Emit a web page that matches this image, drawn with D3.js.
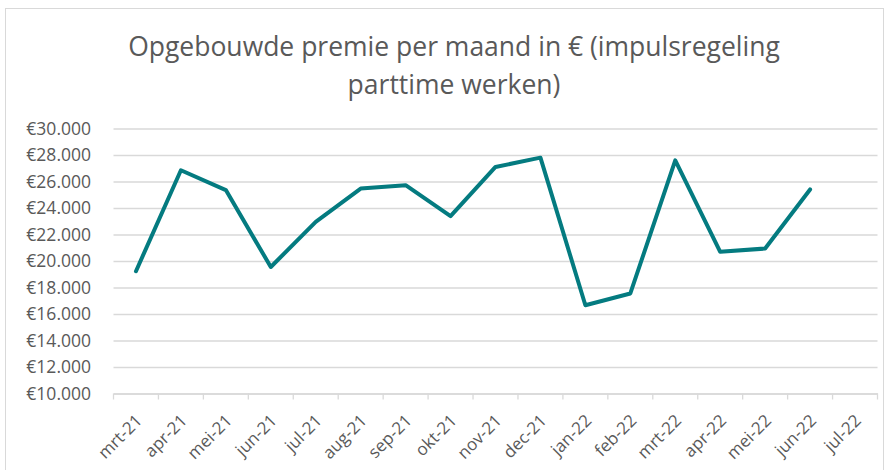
<!DOCTYPE html>
<html>
<head>
<meta charset="utf-8">
<script src="https://cdn.jsdelivr.net/npm/d3@7"></script>
<style>
  body { margin: 0; background: #fff; }
  text { font-family: "Open Sans", sans-serif; fill: #595959; }
</style>
</head>
<body>
<svg id="chart" width="888" height="470"></svg>
<script>
// maanden op de x-as
var months = ['mrt-21', 'apr-21', 'mei-21', 'jun-21', 'jul-21', 'aug-21', 'sep-21', 'okt-21',
  'nov-21', 'dec-21', 'jan-22', 'feb-22', 'mrt-22', 'apr-22', 'mei-22', 'jun-22', 'jul-22']
// opgebouwde premie per maand (jul-22 nog leeg)
var premie = [19230, 26850, 25350, 19550, 22950, 25470, 25720, 23380,
  27100, 27800, 16660, 17550, 27600, 20690, 20940, 25400]
var yTicks = [10000, 12000, 14000, 16000, 18000, 20000, 22000, 24000, 26000, 28000, 30000]
var titleLines = ['Opgebouwde premie per maand in € (impulsregeling', 'parttime werken)']

var svg = d3.select('#chart')
var mLeft = 113.5, mRight = 877.5, mTop = 128.5, mBottom = 393.5

// rand om de grafiek
svg.append('rect')
  .attr('x', 5.5).attr('y', 8.5).attr('width', 878).attr('height', 470)
  .attr('fill', 'none').attr('stroke', '#d9d9d9')

svg.selectAll('.title').data(titleLines).enter().append('text')
  .attr('class', 'title')
  .attr('x', 454)
  .attr('y', function(d, i) { return 56 + i * 38 })
  .attr('text-anchor', 'middle')
  .style('font-size', '26.5px')
  .text(function(d) { return d })

var x = d3.scaleBand().domain(months).range([mLeft, mRight])
var y = d3.scaleLinear().domain([10000, 30000]).range([mBottom, mTop])

// rasterlijnen
svg.append('g')
  .attr('transform', 'translate(' + mLeft + ',0)')
  .call(d3.axisLeft(y).tickValues(yTicks).tickSize(-(mRight - mLeft)).tickFormat(''))
  .call(function(g) {
    g.select('.domain').remove()
    g.selectAll('line').attr('stroke', '#d9d9d9').attr('stroke-width', 1.3)
  })

// y-labels
var fmt = d3.formatLocale({ decimal: ',', thousands: '.', grouping: [3], currency: ['€', ''] }).format('$,.0f')
svg.append('g').selectAll('text').data(yTicks).enter().append('text')
  .attr('x', 91)
  .attr('y', function(d) { return y(d) })
  .attr('dy', '0.35em')
  .attr('text-anchor', 'end')
  .style('font-size', '17.5px')
  .text(function(d) { return fmt(d) })

// x-as
var xAxis = svg.append('g')
  .attr('transform', 'translate(0,' + mBottom + ')')
  .call(d3.axisBottom(x).tickSize(0).tickFormat(''))
xAxis.select('.domain').attr('stroke', '#d9d9d9').attr('stroke-width', 1.3)
xAxis.selectAll('.tick').remove()

var bounds = months.map(function(m) { return x(m) }).concat([mRight])
svg.append('g').selectAll('line').data(bounds).enter().append('line')
  .attr('x1', function(d) { return d }).attr('x2', function(d) { return d })
  .attr('y1', mBottom).attr('y2', mBottom + 6)
  .attr('stroke', '#d9d9d9').attr('stroke-width', 1.3)

svg.append('g').selectAll('text').data(months).enter().append('text')
  .attr('transform', function(d) {
    return 'translate(' + (x(d) + x.bandwidth() / 2 + 3) + ',' + (mBottom + 24) + ') rotate(-45)'
  })
  .attr('text-anchor', 'end')
  .attr('dy', '0.35em')
  .style('font-size', '17px')
  .text(function(d) { return d })

// lijn
var line = d3.line()
  .x(function(d, i) { return x(months[i]) + x.bandwidth() / 2 })
  .y(function(d) { return y(d) })

svg.append('path')
  .datum(premie)
  .attr('d', line)
  .attr('fill', 'none')
  .attr('stroke', '#047b80')
  .attr('stroke-width', 4)
  .attr('stroke-linejoin', 'round')
  .attr('stroke-linecap', 'round')
</script>
</body>
</html>
